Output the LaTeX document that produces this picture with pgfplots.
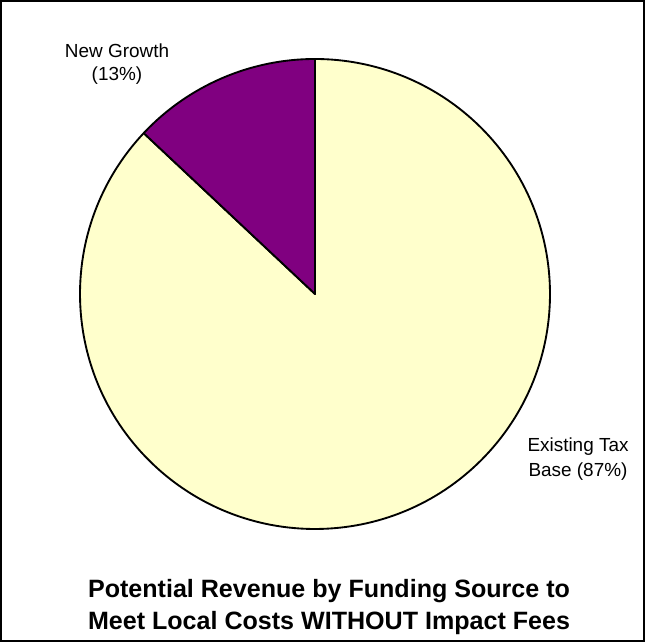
\documentclass[border=0pt]{standalone}
\usepackage{pgfplots}
\pgfplotsset{compat=1.18}
\usepackage{fontspec}
\setmainfont{Liberation Sans}
\definecolor{cream}{HTML}{FFFFCC}
\definecolor{plum}{HTML}{800080}
\begin{document}
\begin{tikzpicture}
\def\newgrowth{13}
\def\existing{87}
\pgfmathsetmacro{\angA}{90}
\pgfmathsetmacro{\angB}{90+\newgrowth*3.6}
\pgfmathsetmacro{\angC}{\angB+\existing*3.6}
\begin{axis}[
  x=0.75pt, y=0.75pt,
  xmin=0, xmax=645, ymin=0, ymax=642,
  hide axis, clip=false,
]
\addplot[draw=none] coordinates {(0,0) (645,642)};
% frame
\draw[black, line width=1.0pt] (axis cs:1,1) rectangle (axis cs:644,641);
% slices
\fill[cream, draw=black, line width=1.4pt, line join=round]
  (axis cs:315,348) -- ++(\angB:176.25pt) arc[start angle=\angB, end angle=\angC, radius=176.25pt] -- cycle;
\fill[plum, draw=black, line width=1.4pt, line join=round]
  (axis cs:315,348) -- ++(\angA:176.25pt) arc[start angle=\angA, end angle=\angB, radius=176.25pt] -- cycle;
% labels
\node[align=center, font=\fontsize{14.2}{17}\selectfont] at (axis cs:117,578) {New Growth\\(\newgrowth\%)};
\node[align=center, font=\fontsize{14.2}{18.5}\selectfont] at (axis cs:578,183) {Existing Tax\\Base (\existing\%)};
\node[align=center, font=\fontsize{18.8}{24}\selectfont\bfseries] at (axis cs:329,35) {Potential Revenue by Funding Source to\\Meet Local Costs WITHOUT Impact Fees};
\end{axis}
\end{tikzpicture}
\end{document}
